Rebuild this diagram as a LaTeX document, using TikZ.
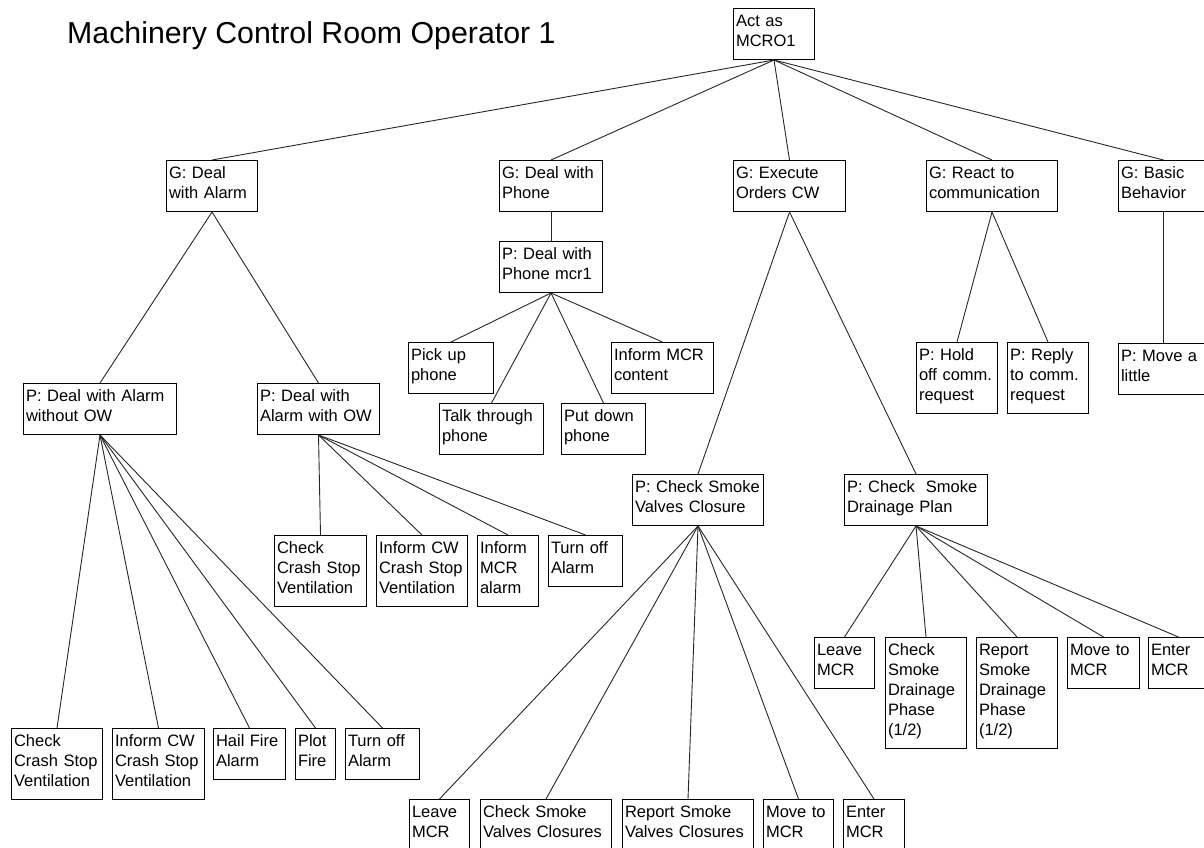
\documentclass[tikz,border=0pt]{standalone}
\usepackage{fontspec}
\setmainfont{Liberation Sans}
\usepackage{tikz}

\begin{document}
\begin{tikzpicture}[x=1pt,y=-1pt,
  task node/.style={draw,line width=1pt,anchor=north west,align=left,
    inner xsep=2.5pt,inner ysep=5.5pt,font=\fontsize{16.5}{20}\selectfont,
    execute at begin node={\rule{0pt}{12.5pt}},
    execute at end node={\rule[-7.5pt]{0pt}{0pt}}},
  title node/.style={anchor=base west,inner sep=0pt,font=\fontsize{30.3}{36}\selectfont},
  every edge/.append style={draw=black!85,line width=0.9pt}]

  \useasboundingbox (0,0) rectangle (1204,847);

  \node[title node] (title) at (67,43) {Machinery Control Room Operator 1};

  % top goal and the five goals below it
  \node[task node, text width=76pt] (root) at (733,8) {Act as\\MCRO1};
  \node[task node, text width=86pt] (gAlarm) at (166,160) {G: Deal\\with Alarm};
  \node[task node, text width=98pt] (gPhone) at (499,160) {G: Deal with\\Phone};
  \node[task node, text width=107pt] (gOrders) at (733,160) {G: Execute\\Orders CW};
  \node[task node, text width=126pt] (gComm) at (926,160) {G: React to\\communication};
  \node[task node, text width=85pt] (gBasic) at (1118,160) {G: Basic\\Behavior};

  % phone
  \node[task node, text width=98pt] (pPhone) at (499,241) {P: Deal with\\Phone mcr1};
  \node[task node, text width=80pt] (pickUp) at (408,342) {Pick up\\phone};
  \node[task node, text width=99pt] (talk) at (439,403) {Talk through\\phone};
  \node[task node, text width=79pt] (putDown) at (561,403) {Put down\\phone};
  \node[task node, text width=97pt] (informContent) at (611,342) {Inform MCR\\content};

  % communication and basic behavior
  \node[task node, text width=76pt] (pHold) at (916,342) {P: Hold\\off comm.\\request};
  \node[task node, text width=76pt] (pReply) at (1007,342) {P: Reply\\to comm.\\request};
  \node[task node, text width=85pt] (pMove) at (1118,343) {P: Move a\\little};

  % alarm
  \node[task node, text width=148pt] (pNoOW) at (23,383) {P: Deal with Alarm\\without OW};
  \node[task node, text width=117pt] (pOW) at (257,383) {P: Deal with\\Alarm with OW};

  \node[task node, text width=87pt] (owCheck) at (274,535) {Check\\Crash Stop\\Ventilation};
  \node[task node, text width=86pt] (owInformCW) at (376,535) {Inform CW\\Crash Stop\\Ventilation};
  \node[task node, text width=56pt] (owInformMCR) at (477,535) {Inform\\MCR\\alarm};
  \node[task node, text width=69pt] (owTurnOff) at (548,535) {Turn off\\Alarm};

  \node[task node, text width=86pt] (noCheck) at (11,728) {Check\\Crash Stop\\Ventilation};
  \node[task node, text width=87pt] (noInformCW) at (112,728) {Inform CW\\Crash Stop\\Ventilation};
  \node[task node, text width=67pt] (noHail) at (213,728) {Hail Fire\\Alarm};
  \node[task node, text width=35pt] (noPlot) at (295,728) {Plot\\Fire};
  \node[task node, text width=69pt] (noTurnOff) at (345,728) {Turn off\\Alarm};

  % orders
  \node[task node, text width=126pt] (pValves) at (632,474) {P: Check Smoke\\Valves Closure};
  \node[task node, text width=138pt] (pDrain) at (844,474) {P: Check~ Smoke\\Drainage Plan};

  \node[task node, text width=55pt] (vLeave) at (409,799) {Leave\\MCR};
  \node[task node, text width=126pt] (vCheck) at (480,799) {Check Smoke\\Valves Closures};
  \node[task node, text width=126pt] (vReport) at (622,799) {Report Smoke\\Valves Closures};
  \node[task node, text width=65pt] (vMove) at (763,799) {Move to\\MCR};
  \node[task node, text width=56pt] (vEnter) at (843,799) {Enter\\MCR};

  \node[task node, text width=55pt] (dLeave) at (814,637) {Leave\\MCR};
  \node[task node, text width=76pt] (dCheck) at (885,637) {Check\\Smoke\\Drainage\\Phase\\(1/2)};
  \node[task node, text width=76pt] (dReport) at (976,637) {Report\\Smoke\\Drainage\\Phase\\(1/2)};
  \node[task node, text width=67pt] (dMove) at (1067,637) {Move to\\MCR};
  \node[task node, text width=55pt] (dEnter) at (1148,637) {Enter\\MCR};

  \path
    (root.south) edge (gAlarm.north)
                 edge (gPhone.north)
                 edge (gOrders.north)
                 edge (gComm.north)
                 edge (gBasic.north)
    (gAlarm.south) edge (pNoOW.north)
                   edge (pOW.north)
    (gPhone.south) edge (pPhone.north)
    (pPhone.south) edge (pickUp.north)
                   edge (talk.north)
                   edge (putDown.north)
                   edge (informContent.north)
    (gComm.south) edge (pHold.north)
                  edge (pReply.north)
    (gBasic.south) edge (pMove.north)
    (pNoOW.south) edge (noCheck.north)
                  edge (noInformCW.north)
                  edge (noHail.north)
                  edge (noPlot.north)
                  edge (noTurnOff.north)
    (pOW.south) edge (owCheck.north)
                edge (owInformCW.north)
                edge (owInformMCR.north)
                edge (owTurnOff.north)
    (gOrders.south) edge (pValves.north)
                    edge (pDrain.north)
    (pValves.south) edge (vLeave.north)
                    edge (vCheck.north)
                    edge (vReport.north)
                    edge (vMove.north)
                    edge (vEnter.north)
    (pDrain.south) edge (dLeave.north)
                   edge (dCheck.north)
                   edge (dReport.north)
                   edge (dMove.north)
                   edge (dEnter.north);
\end{tikzpicture}
\end{document}
